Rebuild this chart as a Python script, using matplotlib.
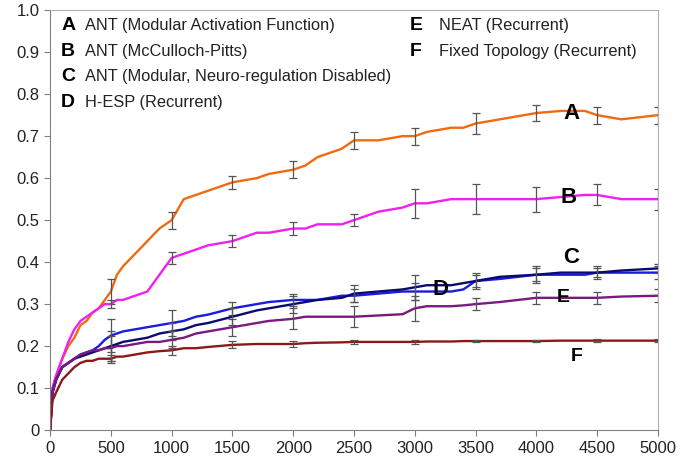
import matplotlib.pyplot as plt
import numpy as np

plt.rcParams['font.family'] = ['Liberation Sans', 'DejaVu Sans']

# generations
gens = [0, 20, 50, 100, 150, 200, 250, 300, 350, 400, 450, 500, 550, 600, 700, 800, 900, 1000,
        1100, 1200, 1300, 1500, 1700, 1800, 2000, 2100, 2200, 2400, 2500, 2700, 2900, 3000,
        3100, 3300, 3400, 3500, 3700, 4000, 4200, 4400, 4500, 4700, 5000]

ant_modular = [0.0, 0.1, 0.13, 0.17, 0.2, 0.22, 0.25, 0.26, 0.28, 0.29, 0.31, 0.33, 0.37, 0.39,
               0.42, 0.45, 0.48, 0.5, 0.55, 0.56, 0.57, 0.59, 0.6, 0.61, 0.62, 0.63, 0.65,
               0.67, 0.69, 0.69, 0.7, 0.7, 0.71, 0.72, 0.72, 0.73, 0.74, 0.755, 0.76, 0.76,
               0.75, 0.74, 0.75]
ant_mcp = [0.0, 0.1, 0.13, 0.17, 0.21, 0.24, 0.26, 0.27, 0.28, 0.29, 0.3, 0.3, 0.31, 0.31,
           0.32, 0.33, 0.37, 0.41, 0.42, 0.43, 0.44, 0.45, 0.47, 0.47, 0.48, 0.48, 0.49,
           0.49, 0.5, 0.52, 0.53, 0.54, 0.54, 0.55, 0.55, 0.55, 0.55, 0.55, 0.555, 0.56,
           0.56, 0.55, 0.55]
ant_no_nr = [0.0, 0.09, 0.12, 0.15, 0.16, 0.17, 0.18, 0.185, 0.19, 0.2, 0.215, 0.225, 0.23,
             0.235, 0.24, 0.245, 0.25, 0.255, 0.26, 0.27, 0.275, 0.29, 0.3, 0.305, 0.31, 0.31,
             0.31, 0.32, 0.32, 0.325, 0.33, 0.33, 0.33, 0.33, 0.335, 0.355, 0.36, 0.37, 0.37,
             0.37, 0.375, 0.375, 0.375]
hesp = [0.0, 0.09, 0.12, 0.15, 0.16, 0.17, 0.175, 0.18, 0.185, 0.19, 0.195, 0.2, 0.205, 0.21,
        0.215, 0.22, 0.23, 0.235, 0.24, 0.25, 0.255, 0.27, 0.285, 0.29, 0.3, 0.305, 0.31,
        0.315, 0.325, 0.33, 0.335, 0.34, 0.345, 0.345, 0.35, 0.355, 0.365, 0.37, 0.375, 0.375,
        0.375, 0.38, 0.385]
neat = [0.0, 0.09, 0.12, 0.15, 0.16, 0.17, 0.18, 0.185, 0.19, 0.19, 0.195, 0.195, 0.2, 0.2,
        0.205, 0.21, 0.21, 0.215, 0.22, 0.23, 0.235, 0.245, 0.255, 0.26, 0.265, 0.27, 0.27,
        0.27, 0.27, 0.273, 0.276, 0.29, 0.295, 0.295, 0.297, 0.3, 0.305, 0.315, 0.315, 0.315,
        0.315, 0.318, 0.32]
fixed = [0.0, 0.07, 0.09, 0.12, 0.135, 0.15, 0.16, 0.165, 0.165, 0.17, 0.17, 0.17, 0.175,
         0.175, 0.18, 0.185, 0.188, 0.19, 0.195, 0.195, 0.198, 0.203, 0.205, 0.205, 0.205,
         0.207, 0.208, 0.209, 0.21, 0.21, 0.21, 0.21, 0.211, 0.211, 0.212, 0.212, 0.212,
         0.212, 0.213, 0.213, 0.213, 0.213, 0.213]

# error bars every 500 generations
err_x = [500, 1000, 1500, 2000, 2500, 3000, 3500, 4000, 4500, 5000]
err_a = [0.03, 0.02, 0.015, 0.02, 0.02, 0.02, 0.025, 0.02, 0.02, 0.02]
err_b = [0.01, 0.015, 0.015, 0.015, 0.015, 0.035, 0.035, 0.03, 0.025, 0.025]
err_c = [0.04, 0.03, 0.015, 0.015, 0.015, 0.02, 0.02, 0.02, 0.015, 0.015]
err_d = [0.035, 0.02, 0.02, 0.02, 0.02, 0.03, 0.015, 0.015, 0.01, 0.01]
err_e = [0.03, 0.02, 0.02, 0.025, 0.025, 0.03, 0.015, 0.015, 0.015, 0.015]
err_f = [0.01, 0.01, 0.008, 0.006, 0.004, 0.004, 0.003, 0.003, 0.003, 0.003]

series = [
    (ant_modular, err_a, '#F26A10'),
    (ant_mcp, err_b, '#F020F0'),
    (ant_no_nr, err_c, '#1A1AE0'),
    (hesp, err_d, '#0A0A70'),
    (neat, err_e, '#7A1A80'),
    (fixed, err_f, '#8A1A1A'),
]

legend_left = [('A', 'ANT (Modular Activation Function)'),
               ('B', 'ANT (McCulloch-Pitts)'),
               ('C', 'ANT (Modular, Neuro-regulation Disabled)'),
               ('D', 'H-ESP (Recurrent)')]
legend_right = [('E', 'NEAT (Recurrent)'),
                ('F', 'Fixed Topology (Recurrent)')]

fig = plt.figure(figsize=(6.86, 4.61), dpi=100)
ax = fig.add_axes([0.073, 0.067, 0.886, 0.911])

for vals, errs, col in series:
    ax.plot(gens, vals, color=col, lw=1.7)
    yv = np.interp(err_x, gens, vals)
    ax.errorbar(err_x, yv, yerr=errs, fmt='none', ecolor='#555555',
                elinewidth=0.9, capsize=3, capthick=0.9)

# letters beside the curves
ax.text(4220, 0.755, 'A', fontsize=16, fontweight='bold', va='center')
ax.text(4200, 0.555, 'B', fontsize=16, fontweight='bold', va='center')
ax.text(4220, 0.41, 'C', fontsize=16, fontweight='bold', va='center')
ax.text(3150, 0.335, 'D', fontsize=16, fontweight='bold', va='center')
ax.text(4170, 0.315, 'E', fontsize=14, fontweight='bold', va='center')
ax.text(4280, 0.175, 'F', fontsize=14, fontweight='bold', va='center')

# legend block
for i, (let, lab) in enumerate(legend_left):
    y = 0.963 - i * 0.061
    ax.text(90, y, let, fontsize=14, fontweight='bold', va='center')
    ax.text(285, y, lab, fontsize=11.8, va='center', color='#222222')
for i, (let, lab) in enumerate(legend_right):
    y = 0.963 - i * 0.061
    ax.text(2960, y, let, fontsize=14, fontweight='bold', va='center')
    ax.text(3200, y, lab, fontsize=11.8, va='center', color='#222222')

ax.set_xlim(0, 5000)
ax.set_ylim(0, 1.0)
ax.set_xticks(np.arange(0, 5001, 500))
ax.set_yticks(np.arange(0, 1.01, 0.1))
ax.set_yticklabels(['0'] + ['%.1f' % v for v in np.arange(0.1, 1.01, 0.1)])
ax.tick_params(direction='out', length=4, color='#808080', labelsize=12, labelcolor='#222222')
for s in ['left', 'bottom']:
    ax.spines[s].set_color('#808080')
for s in ['top', 'right']:
    ax.spines[s].set_color('#b0b0b0')

fig.savefig('out.png', dpi=100)
